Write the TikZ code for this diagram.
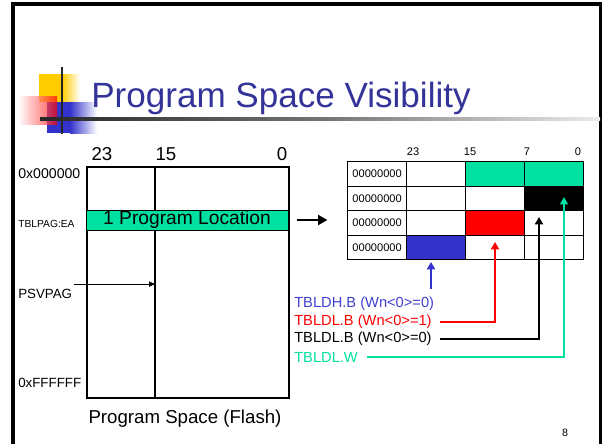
\documentclass[tikz,border=0pt]{standalone}
\usepackage{fontspec}
\setmainfont{Liberation Sans}
\usetikzlibrary{arrows.meta}
\definecolor{titleblue}{RGB}{51,51,153}
\definecolor{locgreen}{RGB}{0,224,160}
\definecolor{cellblue}{RGB}{51,51,204}
\definecolor{lblblue}{RGB}{64,64,208}
\definecolor{logoyellow}{RGB}{255,204,0}
\begin{document}
\begin{tikzpicture}[x=0.75pt, y=-0.75pt,
    txt/.style={inner sep=0pt, font=\fontsize{14}{16}\selectfont},
    addr/.style={inner sep=0pt, anchor=west, font=\fontsize{10}{12}\selectfont},
    bit/.style={inner sep=0pt, font=\fontsize{8.3}{10}\selectfont},
    cell/.style={draw, line width=0.9pt, minimum width=44.25pt, minimum height=18.375pt,
                 inner sep=0pt, anchor=north west, font=\fontsize{8.3}{10}\selectfont},
    mode/.style={inner sep=0pt, anchor=west, font=\fontsize{11}{13}\selectfont},
    tip/.style={-{Triangle[width=6pt,length=5.5pt]}, line width=1.4pt}]

  \useasboundingbox (0,0) rectangle (602,444);
  % slide frame
  \draw[line width=2.5pt] (13,444) -- (13,4) -- (600.5,4) -- (600.5,444);

  % logo
  \fill[logoyellow] (39,74) rectangle (62,102);
  \shade[left color=logoyellow, right color=white] (62,74) rectangle (80,102);
  \fill[cellblue] (47,102) rectangle (70,133);
  \shade[left color=cellblue, right color=white] (70,102) rectangle (97,133);
  \shade[left color=red!5, right color=red, opacity=0.7] (20,96) rectangle (57,124);
  \draw[line width=2.2pt, black!85] (62,67) -- (62,134);
  \shade[left color=black!85, right color=black!8, middle color=black!55] (40,117.6) rectangle (600,120.4);

  \node[anchor=base west, inner sep=0pt, text=titleblue, font=\fontsize{26.3}{30}\selectfont] (title) at (91,107) {Program Space Visibility};

  % program space
  \coordinate (midtop) at (155,166);
  \coordinate (midbot) at (155,397);
  \draw[line width=1.5pt] (midtop) -- (midbot);
  \node[draw, line width=1.5pt, minimum width=151.5pt, minimum height=173.25pt, inner sep=0pt, anchor=north west] (flash) at (86,166) {};
  \node[draw, line width=0.6pt, fill=locgreen, minimum width=151.5pt, minimum height=15pt, inner sep=0pt,
        font=\fontsize{14.4}{16}\selectfont] (loc) at (187,220) {1 Program Location};

  \node[txt] (b23) at (102,154) {23};
  \node[txt] (b15) at (166,154) {15};
  \node[txt] (b0) at (282,154) {0};

  \node[addr, font=\fontsize{10.6}{12}\selectfont] (first) at (18,174) {0x000000};
  \node[addr, font=\fontsize{7.7}{9}\selectfont] (tblpag) at (18,224) {TBLPAG:EA};
  \node[addr] (psvpag) at (18,294) {PSVPAG};
  \node[addr] (last) at (18,383) {0xFFFFFF};
  \node[txt] (caption) at (185,419) {Program Space (Flash)};

  \draw[-{Triangle[width=4pt,length=4.5pt]}, line width=0.6pt]
    ([xshift=1.5pt, yshift=3.7pt]psvpag.north east) -- ([yshift=3.7pt]psvpag.north east -| midtop);
  \draw[-{Triangle[width=7.5pt,length=7pt]}, line width=1.5pt] ([xshift=6.75pt]loc.east) -- ([xshift=29.25pt]loc.east);

  % data table
  \node[bit] (h23) at (413,152) {23};
  \node[bit] (h15) at (470,152) {15};
  \node[bit] (h7) at (527,152) {7};
  \node[bit] (h0) at (578,152) {0};

  \foreach \r/\fa/\fb/\fc in {0/white/locgreen/locgreen, 1/white/white/black,
                              2/white/red/white, 3/cellblue/white/white} {
    \node[cell] (c\r0) at (347,{161+24.5*\r}) {00000000};
    \node[cell, fill=\fa] (c\r1) at (406,{161+24.5*\r}) {};
    \node[cell, fill=\fb] (c\r2) at (465,{161+24.5*\r}) {};
    \node[cell, fill=\fc] (c\r3) at (524,{161+24.5*\r}) {};
  }

  \node[mode, text=lblblue] (ldh) at (294,304) {TBLDH.B (Wn<0>=0)};
  \node[mode, text=red] (ldlodd) at (294,322) {TBLDL.B (Wn<0>=1)};
  \node[mode] (ldleven) at (294,339) {TBLDL.B (Wn<0>=0)};
  \node[mode, text=locgreen] (ldlw) at (294,357) {TBLDL.W};

  \coordinate (tailH) at (431,289);
  \coordinate (tipH) at (431,262);
  \coordinate (tipR) at (495,242);
  \coordinate (tipK) at (539,217);
  \coordinate (tipW) at (564,197);

  \draw[tip, cellblue] (tailH) -- (tipH);
  \draw[tip, red, shorten <=6pt] (ldlodd.east) -| (tipR);
  \draw[tip, black, shorten <=6pt] (ldleven.east) -| (tipK);
  \draw[tip, locgreen, line width=1.1pt, shorten <=6.75pt] (ldlw.east) -| (tipW);

  \node[inner sep=0pt, font=\fontsize{8}{10}\selectfont] (pgnum) at (565,433) {8};
\end{tikzpicture}
\end{document}
